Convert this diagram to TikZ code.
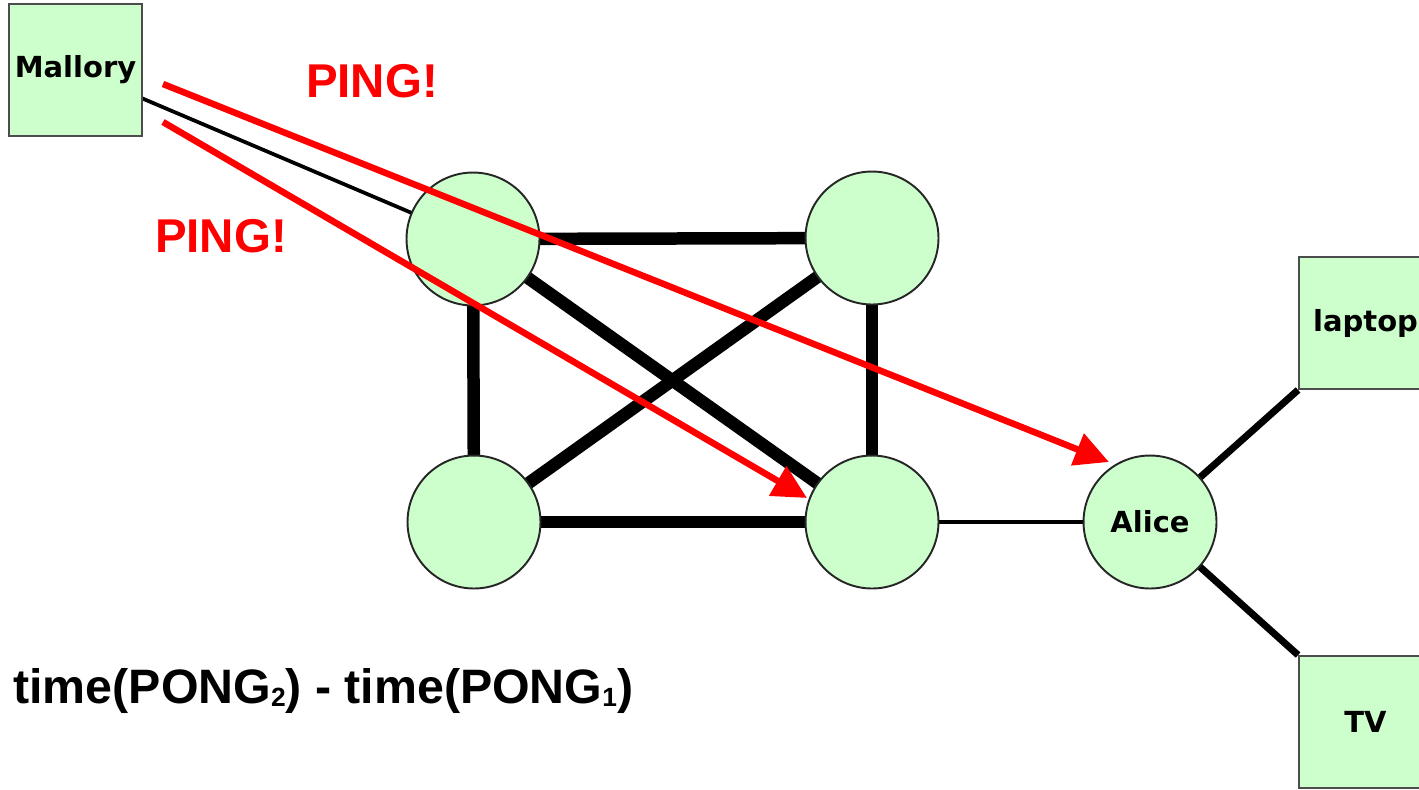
\documentclass[tikz,border=0pt]{standalone}
\usepackage{fontspec}
\setmainfont{Liberation Sans}
\newfontfamily\labelfont{DejaVu Sans}
\usetikzlibrary{arrows.meta, positioning, backgrounds}
\definecolor{nodegreen}{RGB}{204, 255, 204}
\definecolor{pingred}{RGB}{255, 0, 0}
\newcommand{\pongsub}[1]{\raisebox{-2pt}{\fontsize{15}{15}\selectfont #1}}

\begin{document}
\begin{tikzpicture}[x=0.02cm, y=-0.02cm,
		router/.style={circle, draw=black!85, line width=1.1pt, fill=nodegreen, minimum size=2.66cm, inner sep=0pt, font=\labelfont\bfseries\fontsize{16.5}{16.5}\selectfont},
		device/.style={rectangle, draw=black!70, line width=1.1pt, fill=nodegreen, minimum width=2.66cm, minimum height=2.64cm, inner sep=0pt, font=\labelfont\bfseries\fontsize{16.5}{16.5}\selectfont},
		mesh/.style={line width=0.25cm},
		homelink/.style={line width=0.14cm},
		thinlink/.style={line width=0.075cm},
		ping/.style={draw=pingred, line width=0.13cm, -{Triangle[length=0.68cm, width=0.66cm]}},
		pinglabel/.style={text=pingred, font=\bfseries\fontsize{27}{27}\selectfont, inner sep=0pt}]
	% Canvas
	\useasboundingbox (0,0) rectangle (1419,789);
	\clip (0,0) rectangle (1419,789);

	% Hosts and routers
	\node[device] (mallory) at (75.5,70) {Mallory};
	\node[router] (r1) at (473,239) {};
	\node[router] (r2) at (872,238) {};
	\node[router] (r3) at (474,522) {};
	\node[router] (r4) at (872,522) {};
	\node[router] (alice) at (1150,522) {Alice};
	\node[device] (laptop) at (1365.5,323) {laptop};
	\node[device] (tv) at (1365.5,722) {TV};

	% Links - behind the nodes
	\begin{pgfonlayer}{background}
		\foreach \a/\b in {r1/r2, r1/r3, r2/r4, r3/r4, r1/r4, r2/r3} {
			\draw[mesh] (\a.center) -- (\b.center);
		}
		\draw[thinlink] (mallory.center) -- (r1.center);
		\draw[thinlink] (r4.center) -- (alice.center);
		\draw[homelink] (alice.center) -- (laptop.south west);
		\draw[homelink] (alice.center) -- (tv.north west);
	\end{pgfonlayer}

	% Probes
	\coordinate (ping1 tail) at (163,84);
	\coordinate (ping1 tip) at (1109,462);
	\coordinate (ping2 tail) at (163,122);
	\coordinate (ping2 tip) at (807,498);
	\draw[ping] (ping1 tail) -- (ping1 tip);
	\draw[ping] (ping2 tail) -- (ping2 tip);

	\node[pinglabel] (ping1 label) at (372,81.5) {PING!};
	\node[pinglabel] (ping2 label) at (221,236.5) {PING!};

	% Timing difference
	\node[anchor=base west, inner sep=0pt, font=\bfseries\fontsize{27.5}{27.5}\selectfont] (delta) at (13,703)
		{time(PONG\pongsub{2}) - time(PONG\pongsub{1})};
\end{tikzpicture}
\end{document}
